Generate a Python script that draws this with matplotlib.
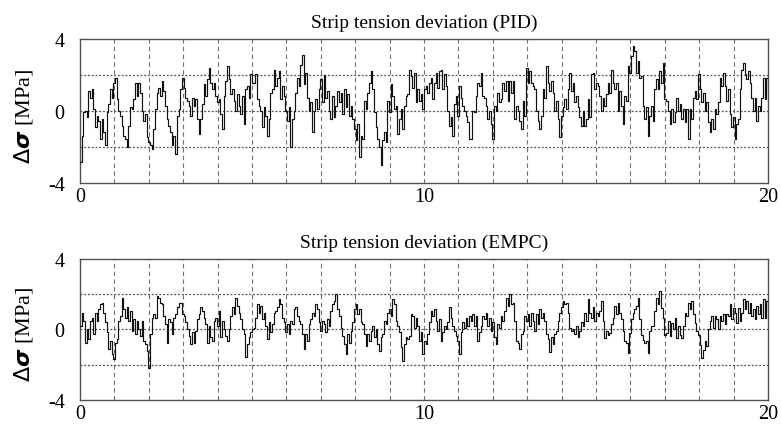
import numpy as np
import matplotlib
matplotlib.use("Agg")
import matplotlib.pyplot as plt

# ---- data: PID strip tension deviation (MPa), read in 5 s chunks ----
pid_0_5 = [-2.83,-1.36,-0.07,0.02,-0.35,1.12,0.75,1.21,0.11,-0.90,-0.26,-0.53,-1.54,-0.44,-1.17,-1.91,
           -0.07,0.39,1.21,0.75,1.58,1.85,0.66,0.02,-0.26,-0.81,-1.36,-1.54,-2.00,-0.81,0.20,0.11,0.66,
           1.58,0.84,1.58,1.03,0.02,-0.53,-0.17,-1.45,-1.72,-1.91,-2.09,-0.99,0.11,1.03,1.30,0.84,1.67,
           1.12,0.29,-0.44,-0.81,-1.17,-1.91,-1.36,-2.37,-0.26,0.11,1.21,1.85,1.30,0.75,0.57,0.29,-0.26,
           0.75,0.29,0.66,-0.44,-1.27,-0.44,0.39,1.49,0.84,1.76,2.40,1.58,1.21,1.58,0.84,0.48,0.66,-0.17,
           -0.99,0.84,1.67,2.53,1.76,0.94,1.21,0.57,0.02,0.94,0.29,-0.17,0.84,-0.72,1.21,1.39,0.75,2.04,1.58]
pid_5_10 = [1.58,2.04,0.66,0.29,0.02,-0.90,0.20,-0.26,-1.36,-0.44,1.03,1.21,2.31,1.39,1.85,2.22,0.66,
            1.39,0.84,0.02,-0.53,0.20,-2.00,-0.44,0.02,1.03,1.85,1.39,2.59,3.14,1.49,2.13,0.75,0.02,0.48,
            -1.17,0.02,0.66,0.11,1.21,1.76,0.48,1.98,0.75,1.12,0.02,-0.44,0.84,-0.35,0.29,1.12,0.48,1.03,
            -0.17,1.21,0.20,0.94,-0.26,0.29,-0.44,-0.99,-1.63,-0.72,-2.55,-1.36,-1.54,0.57,0.11,1.03,1.58,
            2.22,1.21,-0.07,-0.90,-1.54,-2.00,-2.97,-1.63,-1.17,-1.72,0.57,-0.07,1.49,0.84,0.11,0.29,-1.27,
            -0.44,0.11,-0.99,0.29,0.84,0.94,2.31,1.94,1.30,2.13,0.48,1.21,0.57,0.94,0.11,1.21]
pid_10_15 = [1.39,1.03,1.58,1.85,0.66,1.58,2.13,1.30,2.22,2.31,1.21,2.04,1.39,0.02,-0.81,-0.35,-1.36,
             0.39,0.84,-0.26,1.39,0.75,0.29,0.02,-0.26,-0.62,-1.54,-1.54,0.02,-0.07,0.84,1.58,1.39,2.13,
             0.84,0.75,0.29,-0.44,0.02,-0.72,-1.54,0.29,0.02,1.03,0.48,0.66,1.58,1.12,1.67,0.57,1.67,1.03,
             1.67,-0.44,0.29,0.02,-0.53,-0.99,0.57,-0.26,2.40,1.58,2.22,1.58,1.39,1.21,0.02,-0.53,-0.99,
             -0.26,1.21,0.75,2.50,1.58,1.12,1.67,1.03,0.02,0.57,-0.44,-1.45,-0.26,0.20,0.66,0.11,1.21,2.13,
             1.12,1.58,0.48,0.84,0.20,-0.35,-0.81,0.02,-0.81,-0.44,0.66,-0.35,2.04,2.13,1.21,1.58]
pid_15_20 = [1.40,0.84,0.02,0.75,0.29,0.94,1.58,1.03,2.31,1.58,1.21,1.58,0.02,1.12,0.29,-0.72,0.84,
             0.57,2.50,2.13,3.05,3.60,3.32,2.13,2.77,1.85,1.94,0.29,-0.44,0.20,-1.36,-0.26,0.29,-0.53,1.21,
             1.76,1.21,2.22,1.58,2.68,0.66,0.57,0.02,-0.72,0.11,-0.62,-0.07,0.75,0.02,0.39,-0.44,0.11,-0.62,
             0.11,-1.54,0.11,-0.44,0.75,1.12,0.66,2.04,1.21,0.48,1.03,0.02,0.48,-0.62,-1.17,-0.44,-0.99,
             0.11,-0.17,0.48,1.85,1.39,2.13,1.39,0.57,1.21,-0.17,-0.90,-0.35,-1.54,-0.72,-0.44,1.21,2.31,
             2.68,2.04,1.76,2.22,1.58,0.75,0.02,0.75,-0.53,0.29,0.02,0.75,1.85,0.66,1.85,1.21]

# ---- data: EMPC strip tension deviation (MPa) ----
empc_0_5 = [0.21,0.96,0.49,-0.74,0.02,-0.55,0.49,0.68,-0.26,0.96,0.49,1.15,1.43,1.53,0.96,0.40,-0.17,
            -1.11,-0.64,-1.40,-1.68,-0.74,-0.55,0.49,0.77,1.81,1.15,0.68,1.25,0.49,1.06,-0.08,0.58,-0.26,
            0.49,0.02,-0.36,0.49,-0.64,-0.83,-1.21,-2.17,-0.26,0.68,0.87,0.68,1.91,1.81,1.53,1.43,0.77,0.30,
            -0.74,0.58,0.40,-0.26,0.68,0.87,1.25,1.53,1.53,0.87,0.77,0.40,0.02,-0.36,-0.83,-0.17,-0.74,-0.08,
            0.58,0.87,1.25,1.06,0.68,0.30,-0.74,0.21,-0.45,-0.64,0.49,0.68,0.21,1.06,-0.45,0.49,0.02,-0.36,
            -0.64,0.02,0.77,1.25,0.87,1.81,1.34,0.96,0.58,0.02,-0.26,-1.58,-0.83,-0.45,-0.17,0.02]
empc_5_10 = [0.11,0.68,1.43,0.96,1.34,0.58,0.96,0.21,-0.55,0.40,-0.17,0.30,0.96,1.06,1.25,1.72,1.43,
             0.68,0.40,-0.17,0.30,-0.26,0.49,0.30,1.15,1.25,0.77,0.49,0.30,-0.26,-1.11,-0.26,-0.64,0.30,
             0.58,0.96,0.77,1.43,1.15,0.40,-0.08,0.49,0.30,-0.17,0.58,0.21,1.06,1.43,1.62,2.00,1.15,0.77,
             0.11,-0.36,-0.83,-1.40,-0.26,-0.74,-0.08,0.40,1.15,1.43,0.87,1.15,0.40,0.30,-0.26,-0.92,-0.26,
             -0.64,-0.08,0.21,-0.45,0.02,-0.83,-1.21,-0.45,-0.26,0.49,0.30,0.96,1.15,0.77,1.72,1.43,0.49,
             0.21,-0.17,-1.02,-1.77,-0.83,-0.45,-0.55,-0.36,0.87,0.77,0.11,0.68,0.21,-0.64,-0.17,-1.40,-0.64]
empc_10_15 = [-0.83,-0.26,0.40,1.06,0.77,1.15,0.49,-0.08,0.58,-0.64,-0.17,0.21,0.02,0.40,1.25,0.68,
              0.21,-0.08,-0.36,-0.64,-1.40,-0.17,0.40,0.11,0.68,0.21,0.77,0.49,0.87,0.21,0.77,-0.64,-0.17,
              0.21,0.77,0.58,0.96,0.21,0.68,-0.08,0.40,-0.45,-0.83,0.30,0.11,0.77,0.49,1.06,1.81,1.34,2.00,
              1.43,1.53,0.49,-0.64,-0.74,-1.11,-0.26,-0.08,0.77,0.49,0.87,0.21,0.96,0.49,-0.08,0.87,0.30,
              1.15,0.68,0.96,0.49,-0.26,-0.55,-1.30,-0.45,-0.83,-0.26,-0.08,0.49,0.96,1.25,1.62,1.43,1.53,
              0.96,0.11,-0.08,0.02,-0.26,0.21,-0.45,-0.08,0.40,0.21,0.96,0.49,1.72,0.96,0.68,1.25,0.49,0.96]
empc_15_20 = [0.76,1.05,1.62,0.48,-0.48,-0.10,-0.29,-0.19,0.29,0.67,1.33,0.86,1.52,0.95,0.57,-0.10,
              -0.67,-0.76,-1.33,-0.19,0.57,0.95,1.14,1.33,1.81,0.57,-0.29,-0.57,-0.76,-0.67,-1.33,-0.10,
              0.19,0.19,1.05,1.81,1.43,2.19,1.24,0.67,-0.29,-0.19,0.48,-0.38,0.38,0.00,0.67,-0.48,0.19,-0.29,
              -0.48,0.19,0.95,0.76,1.52,1.14,1.62,0.86,0.38,-0.10,-0.29,-0.86,-1.62,-1.14,-0.67,-0.95,0.00,
              0.48,0.76,0.10,0.76,0.57,0.00,0.76,0.48,0.86,0.29,0.86,0.76,1.43,0.57,1.24,0.95,0.38,1.24,0.48,
              0.95,1.71,1.14,1.62,0.95,1.52,0.76,1.14,0.57,1.33,0.86,1.43,0.67,1.71,0.67,1.62,1.14]

pid = np.array(pid_0_5 + pid_5_10 + pid_10_15 + pid_15_20)
empc = np.array(empc_0_5 + empc_5_10 + empc_10_15 + empc_15_20)
t_pid = np.linspace(0, 20, len(pid))
t_empc = np.linspace(0, 20, len(empc))

titles = ["Strip tension deviation (PID)", "Strip tension deviation (EMPC)"]
xticks = [0, 10, 20]
yticks = [-4, 0, 4]
ytick_labels = ["-4", "0", "4"]

plt.rcParams['font.family'] = ['Liberation Serif', 'DejaVu Serif']
plt.rcParams['mathtext.fontset'] = 'dejavusans'

fig = plt.figure(figsize=(7.81, 4.27), dpi=100)
ax1 = fig.add_axes([0.1024, 0.569, 0.881, 0.337])
ax2 = fig.add_axes([0.1024, 0.061, 0.881, 0.330])

for ax, t, y, title in [(ax1, t_pid, pid, titles[0]), (ax2, t_empc, empc, titles[1])]:
    ax.set_xlim(0, 20)
    ax.set_ylim(-4, 4)
    for xv in range(1, 20):
        ax.axvline(xv, color='#707070', lw=0.8, ls=(0, (4, 3)), zorder=1)
    for yv in (-2, 0, 2):
        ax.axhline(yv, color='#505050', lw=0.9, ls=(0, (1.5, 1.5)), zorder=1)
    ax.plot(t, y, color='#111111', lw=0.85, drawstyle='steps-post', zorder=3)
    ax.set_xticks(xticks)
    ax.set_xticklabels([str(v) for v in xticks])
    ax.set_yticks(yticks)
    ax.set_yticklabels(ytick_labels)
    ax.tick_params(length=0, labelsize=14.5)
    ax.tick_params(axis='x', pad=3)
    ax.tick_params(axis='y', pad=11)
    for s in ax.spines.values():
        s.set_color('#505050')
        s.set_linewidth(1.0)
    ax.set_title(title, fontsize=14, pad=9)
    ax.set_ylabel(r'$\Delta\boldsymbol{\sigma}$ [MPa]', fontsize=16)
    ax.yaxis.set_label_coords(-0.066, 0.47)

fig.savefig("out.png", dpi=100)
